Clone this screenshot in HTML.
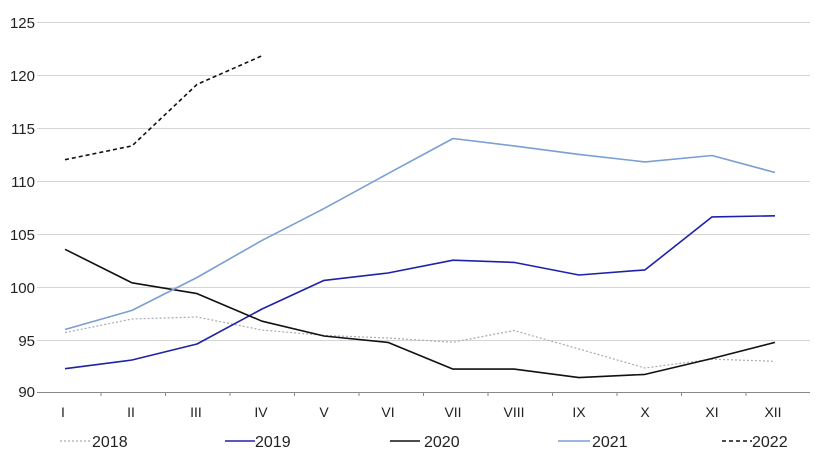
<!DOCTYPE html>
<html><head><style>body{margin:0;background:#fff}svg{display:block;font-family:"Liberation Sans",sans-serif}</style></head><body>
<svg width="820" height="462" xmlns="http://www.w3.org/2000/svg">
<g stroke="#d4d4d4" stroke-width="1">
<line x1="37" x2="810" y1="22.5" y2="22.5"/><line x1="37" x2="810" y1="75.5" y2="75.5"/><line x1="37" x2="810" y1="128.5" y2="128.5"/><line x1="37" x2="810" y1="181.5" y2="181.5"/><line x1="37" x2="810" y1="234.5" y2="234.5"/><line x1="37" x2="810" y1="287.5" y2="287.5"/><line x1="37" x2="810" y1="340.5" y2="340.5"/>
</g>
<line x1="37" x2="810" y1="392.5" y2="392.5" stroke="#888" stroke-width="1"/>
<g stroke="#888" stroke-width="1">
<line x1="101" x2="101" y1="392" y2="396"/><line x1="165.5" x2="165.5" y1="392" y2="396"/><line x1="230" x2="230" y1="392" y2="396"/><line x1="294.5" x2="294.5" y1="392" y2="396"/><line x1="359" x2="359" y1="392" y2="396"/><line x1="423.5" x2="423.5" y1="392" y2="396"/><line x1="488" x2="488" y1="392" y2="396"/><line x1="552.5" x2="552.5" y1="392" y2="396"/><line x1="617" x2="617" y1="392" y2="396"/><line x1="681.5" x2="681.5" y1="392" y2="396"/><line x1="746" x2="746" y1="392" y2="396"/>
</g>
<g font-size="15" fill="#222" text-anchor="end">
<text x="35" y="28">125</text><text x="35" y="81">120</text><text x="35" y="134">115</text><text x="35" y="187">110</text><text x="35" y="240">105</text><text x="35" y="293">100</text><text x="35" y="346">95</text><text x="35" y="397">90</text>
</g>
<g font-size="14" fill="#222" text-anchor="middle">
<text x="63" y="417">I</text><text x="131" y="417">II</text><text x="196" y="417">III</text><text x="261" y="417">IV</text><text x="324" y="417">V</text><text x="388" y="417">VI</text><text x="453" y="417">VII</text><text x="514" y="417">VIII</text><text x="579" y="417">IX</text><text x="645" y="417">X</text><text x="712" y="417">XI</text><text x="773" y="417">XII</text>
</g>
<g fill="none" stroke-width="1.6" stroke-linejoin="round">
<polyline stroke="#aab" stroke-width="1.2" stroke-dasharray="2,2" points="65,332.6 132,319 197,317 262,330 324,335.4 388,338 453,342.2 514,330.5 579,349 645,368 712,359.2 775,361.3"/>
<polyline stroke="#1e22a8" points="65,368.7 132,360 197,344 262,309 324,280.4 388,273 453,260.2 514,262.4 579,275 645,269.9 712,216.9 775,215.8"/>
<polyline stroke="#111" points="65,249.3 132,282.8 197,293.6 262,321.2 324,336 388,342.4 453,369.1 514,369.1 579,377.6 645,374.4 712,358.5 775,342.4"/>
<polyline stroke="#7a9fd3" points="65,329.5 132,310.4 197,277.5 262,240.4 324,208.6 388,173.6 453,138.5 514,145.9 579,154.4 645,161.9 712,155.5 775,172.5"/>
<polyline stroke="#111" stroke-dasharray="4,3" points="65,159.7 132,145.9 197,84.4 262,55.8"/>
</g>
<g font-size="16" fill="#222">
<line x1="60" x2="90" y1="441" y2="441" stroke="#aab" stroke-width="1.2" stroke-dasharray="2,2"/><text x="92" y="447">2018</text>
<line x1="225" x2="255" y1="441" y2="441" stroke="#1e22a8" stroke-width="1.6"/><text x="255" y="447">2019</text>
<line x1="390" x2="420" y1="441" y2="441" stroke="#111" stroke-width="1.6"/><text x="424" y="447">2020</text>
<line x1="558" x2="590" y1="441" y2="441" stroke="#7a9fd3" stroke-width="1.6"/><text x="592" y="447">2021</text>
<line x1="722" x2="752" y1="441" y2="441" stroke="#111" stroke-width="1.6" stroke-dasharray="4,3"/><text x="752" y="447">2022</text>
</g>
</svg>
</body></html>
